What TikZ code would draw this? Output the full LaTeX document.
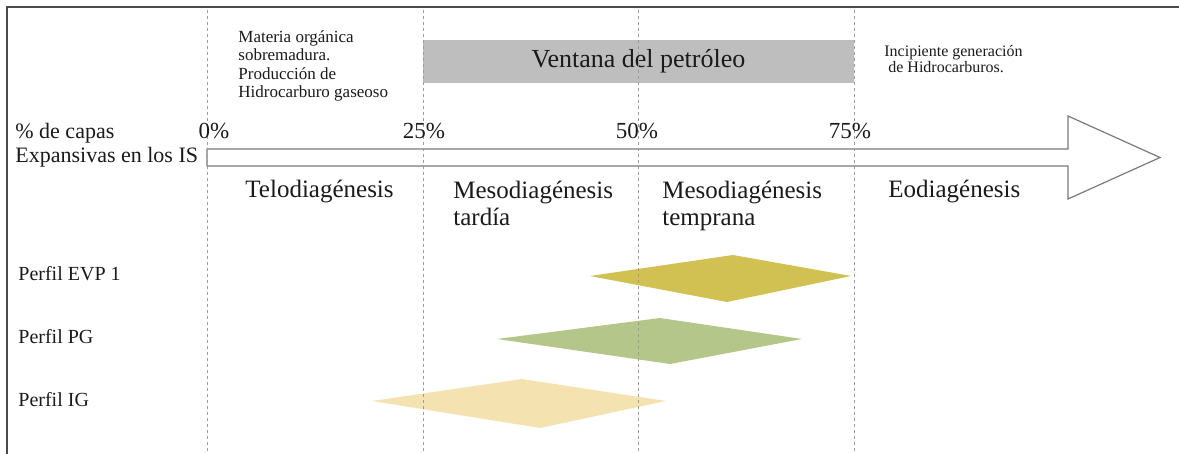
\documentclass[tikz,border=0pt]{standalone}
\usepackage{fontspec}
\setmainfont{Liberation Serif}
\usepackage{tikz}
\usepackage{xcolor}
\usetikzlibrary{positioning,calc}
\definecolor{ink}{HTML}{1A1A1A}
\definecolor{framegray}{HTML}{4A4A4A}
\definecolor{gridgray}{HTML}{9C9C9C}
\definecolor{windowgray}{HTML}{BEBEBE}
\definecolor{arrowgray}{HTML}{7A7A7A}
\definecolor{evpfill}{HTML}{D1C152}
\definecolor{pgfill}{HTML}{B4C68A}
\definecolor{igfill}{HTML}{F4E3B0}
\tikzset{
  gridline/.style={draw=gridgray,line width=0.35pt,dash pattern=on 1.5pt off 1.5pt},
  stagetext/.style={inner sep=0pt,text=ink,align=left,
                    font=\fontsize{12.5}{13.5}\selectfont},
  sidetext/.style={inner sep=0pt,text=ink,anchor=base west,
                   font=\fontsize{11}{12}\selectfont},
  pcttext/.style={inner sep=0pt,text=ink,anchor=base,
                  font=\fontsize{11.5}{12}\selectfont},
  notetext/.style={inner sep=0pt,text=ink,align=left,anchor=north west,
                   font=\fontsize{8.5}{9.25}\selectfont},
  perfiltext/.style={inner sep=0pt,text=ink,anchor=base west,
                     font=\fontsize{10}{11}\selectfont},
  windowbox/.style={fill=windowgray,draw=none,inner sep=0pt,
                    minimum width=215.5pt,minimum height=21.5pt,
                    font=\fontsize{13}{14}\selectfont,text=ink},
  stagearrow/.style={draw=arrowgray,fill=white,line width=0.6pt,line join=miter}
}

\begin{document}
\begin{tikzpicture}[x=0.5pt,y=-0.5pt]
  \useasboundingbox (0,0) rectangle (1179,454);
  % frame
  \draw[framegray,line width=0.75pt] (7,454) -- (7,7) -- (1179,7);
  % oil window
  \node[windowbox] (window) at (638.5,61.5) {Ventana del petróleo};
  % stage arrow
  \draw[stagearrow] (207,149) -- (1068,149) -- (1068,116) -- (1160,157.5)
    -- (1068,199) -- (1068,166) -- (207,166) -- cycle;
  % profiles
  \fill[igfill] (372,401) -- (522,379) -- (666,401) -- (540,428) -- cycle;
  \fill[pgfill] (497,339) -- (660,318) -- (802,339) -- (670,364) -- cycle;
  \fill[evpfill] (590,276) -- (733,255) -- (851,276) -- (727,302) -- cycle;
  % limits
  \foreach \xx/\pct/\dx in {207/0/7,423/25/1,638/50/-1,854/75/-4} {
    \draw[gridline] (\xx,10) -- (\xx,454);
    \node[pcttext] (pct\pct) at (\xx+\dx,139) {\pct\%};
  }
  \node[sidetext] (capas) at (15,139) {\% de capas};
  \node[sidetext] (expansivas) at (15,163) {Expansivas en los IS};
  \node[notetext] (materia) at (238,30)
    {Materia orgánica\\sobremadura.\\Producción de\\Hidrocarburo gaseoso};
  \node[notetext,font=\fontsize{8}{8}\selectfont] (incipiente) at (884,45)
    {Incipiente generación\\\ de Hidrocarburos.};
  \node[stagetext,anchor=base west] (telo) at (245,198) {Telodiagénesis};
  \node[stagetext,anchor=north west] (tardia) at (453,181) {Mesodiagénesis\\tardía};
  \node[stagetext,anchor=north west] (temprana) at (662,181) {Mesodiagénesis\\temprana};
  \node[stagetext,anchor=base west] (eodia) at (888,198) {Eodiagénesis};
  \foreach \name/\yy in {EVP 1/281,PG/344,IG/407}
    \node[perfiltext] (perfil\yy) at (18,\yy) {Perfil \name};
\end{tikzpicture}
\end{document}
